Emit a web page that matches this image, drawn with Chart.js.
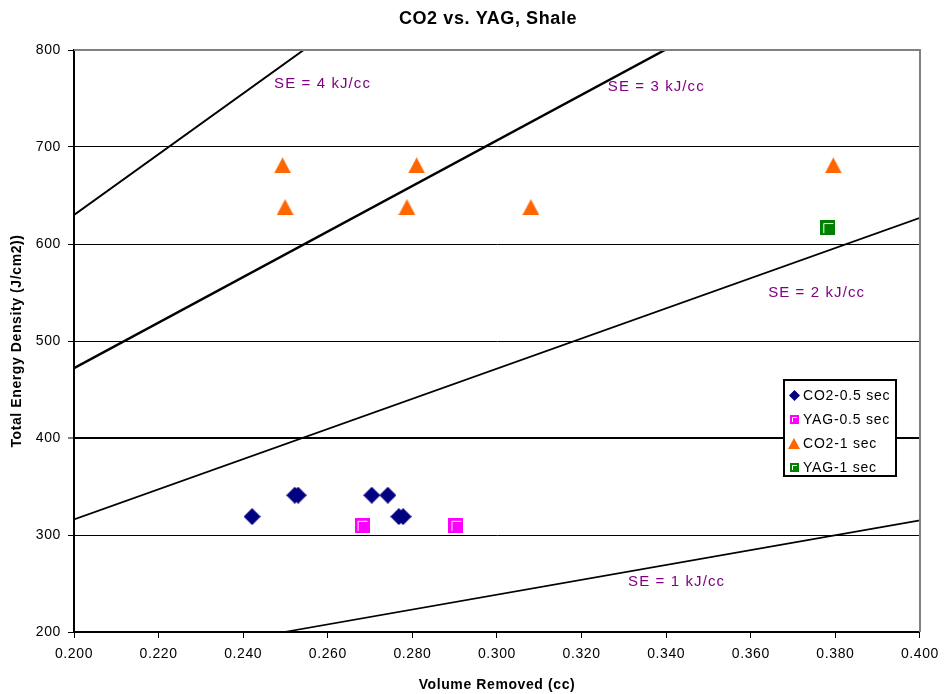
<!DOCTYPE html>
<html>
<head>
<meta charset="utf-8">
<script src="https://cdn.jsdelivr.net/npm/chart.js@4"></script>
<style>
  html, body { margin: 0; padding: 0; background: #fff; }
</style>
</head>
<body>
<canvas id="chart" width="947" height="694"></canvas>
<script>
// values
var co2HalfX = [0.2421, 0.2522, 0.2530, 0.2704, 0.2742, 0.2768, 0.2778];
var co2HalfY = [319, 341, 341, 341, 341, 319, 319];
var yagHalfX = [0.2681, 0.2903];
var yagHalfY = [310, 310];
var co2OneX = [0.2493, 0.2499, 0.2810, 0.2787, 0.3080, 0.3795];
var co2OneY = [681, 638, 681, 638, 638, 681];
var yagOneX = [0.3782];
var yagOneY = [617];

// specific energy lines (two end points each)
var se4X = [0.200, 0.2543], se4Y = [630, 800];
var se3X = [0.200, 0.3397], se3Y = [472, 800];
var se2X = [0.200, 0.400], se2Y = [316, 627];
var se1X = [0.2497, 0.400], se1Y = [200, 315];

var seLabels = ['SE = 4 kJ/cc', 'SE = 3 kJ/cc', 'SE = 2 kJ/cc', 'SE = 1 kJ/cc'];
var seLabelX = [0.2473, 0.3262, 0.3641, 0.3310];
var seLabelY = [765, 762, 550, 252];

var seriesNames = ['CO2-0.5 sec', 'YAG-0.5 sec', 'CO2-1 sec', 'YAG-1 sec'];

var FONT = 'Liberation Sans, Arial, sans-serif';

function pts(xs, ys) {
  return xs.map(function (x, i) { return { x: x, y: ys[i] }; });
}

// marker images
function diamond(size, color) {
  var c = document.createElement('canvas');
  c.width = size; c.height = size;
  var g = c.getContext('2d');
  g.fillStyle = color;
  g.beginPath();
  g.moveTo(size / 2, 0); g.lineTo(size, size / 2); g.lineTo(size / 2, size); g.lineTo(0, size / 2);
  g.closePath(); g.fill();
  return c;
}
function square(size, color) {
  var c = document.createElement('canvas');
  c.width = size; c.height = size;
  var g = c.getContext('2d');
  g.fillStyle = color;
  g.fillRect(0, 0, size, size);
  var o = Math.round(size * 0.22);
  g.strokeStyle = '#fff'; g.lineWidth = 1;
  g.beginPath();
  g.moveTo(o + 0.5, size - 2); g.lineTo(o + 0.5, o + 0.5); g.lineTo(size - 2, o + 0.5);
  g.stroke();
  return c;
}
function triangle(w, h, color) {
  var c = document.createElement('canvas');
  c.width = w; c.height = h;
  var g = c.getContext('2d');
  g.fillStyle = color;
  g.beginPath();
  g.moveTo(w / 2, 0); g.lineTo(w, h); g.lineTo(0, h);
  g.closePath(); g.fill();
  return c;
}

var markers = [diamond(17, '#000080'), square(15, '#ff00ff'), triangle(17, 16, '#ff6600'), square(15, '#008000')];
var legendMarkers = [diamond(11, '#000080'), square(9, '#ff00ff'), triangle(12, 11, '#ff6600'), square(9, '#008000')];

function seLine(xs, ys, w) {
  return {
    type: 'line', data: pts(xs, ys), borderColor: '#000', borderWidth: w,
    pointRadius: 0, fill: false, showLine: true
  };
}

var spacingPlugin = {
  id: 'spacing',
  beforeUpdate: function (chart) { chart.ctx.letterSpacing = '0.6px'; },
  beforeDraw: function (chart) { chart.ctx.letterSpacing = '0.6px'; }
};

var extrasPlugin = {
  id: 'extras',
  afterLayout: function (chart) {
    if (chart.titleBlock) { chart.titleBlock.left = 56; chart.titleBlock.right = 920; }
  },
  afterDatasetsDraw: function (chart) {
    var ctx = chart.ctx, a = chart.chartArea;
    var xs = chart.scales.x, ys = chart.scales.y;
    ctx.save();
    // grey top / right frame
    ctx.strokeStyle = '#808080'; ctx.lineWidth = 2;
    ctx.beginPath();
    ctx.moveTo(a.left, a.top); ctx.lineTo(a.right, a.top); ctx.lineTo(a.right, a.bottom);
    ctx.stroke();
    // SE labels
    ctx.fillStyle = '#800080';
    ctx.font = '15px ' + FONT;
    ctx.letterSpacing = '1.1px';
    ctx.textBaseline = 'middle';
    ctx.textAlign = 'left';
    seLabels.forEach(function (t, i) {
      ctx.fillText(t, xs.getPixelForValue(seLabelX[i]), ys.getPixelForValue(seLabelY[i]));
    });
    ctx.restore();
  },
  afterDraw: function (chart) {
    var ctx = chart.ctx;
    ctx.save();
    ctx.fillStyle = '#fff';
    ctx.fillRect(784, 380, 112, 96);
    ctx.strokeStyle = '#000'; ctx.lineWidth = 2;
    ctx.strokeRect(784, 380, 112, 96);
    ctx.fillStyle = '#000';
    ctx.font = '14px ' + FONT;
    ctx.letterSpacing = '0.8px';
    ctx.textBaseline = 'middle';
    ctx.textAlign = 'left';
    seriesNames.forEach(function (n, i) {
      var cy = 395 + i * 24;
      var m = legendMarkers[i];
      ctx.drawImage(m, Math.round(794 - m.width / 2), Math.round(cy - m.height / 2));
      ctx.fillText(n, 803, cy + 1);
    });
    ctx.restore();
  }
};

var ctx = document.getElementById('chart').getContext('2d');

var chart = new Chart(ctx, {
  type: 'scatter',
  data: {
    datasets: [
      { label: seriesNames[0], data: pts(co2HalfX, co2HalfY), pointStyle: markers[0], pointRadius: 8 },
      { label: seriesNames[1], data: pts(yagHalfX, yagHalfY), pointStyle: markers[1], pointRadius: 7 },
      { label: seriesNames[2], data: pts(co2OneX, co2OneY), pointStyle: markers[2], pointRadius: 8 },
      { label: seriesNames[3], data: pts(yagOneX, yagOneY), pointStyle: markers[3], pointRadius: 7 },
      seLine(se4X, se4Y, 2),
      seLine(se3X, se3Y, 2.5),
      seLine(se2X, se2Y, 1.7),
      seLine(se1X, se1Y, 1.7)
    ]
  },
  options: {
    responsive: false,
    animation: false,
    events: [],
    layout: { padding: { left: 0, right: 27, top: 0, bottom: 0 } },
    plugins: {
      legend: { display: false },
      tooltip: { enabled: false },
      title: {
        display: true,
        text: 'CO2 vs. YAG, Shale',
        color: '#000',
        font: { family: FONT, size: 18, weight: 'bold' },
        padding: { top: 8, bottom: 20.4 }
      }
    },
    scales: {
      x: {
        type: 'linear',
        min: 0.2, max: 0.4,
        afterFit: function (s) { s.height = 62; },
        border: { color: '#000', width: 2 },
        grid: { drawOnChartArea: false, drawTicks: true, tickLength: 6, tickColor: '#000', tickWidth: 1 },
        ticks: {
          stepSize: 0.02,
          padding: 8,
          color: '#000',
          font: { family: FONT, size: 14 },
          maxRotation: 0,
          callback: function (v) { return v.toFixed(3); }
        },
        title: {
          display: true,
          text: 'Volume Removed (cc)',
          color: '#000',
          font: { family: FONT, size: 14, weight: 'bold' },
          padding: { top: 11, bottom: 0 }
        }
      },
      y: {
        type: 'linear',
        min: 200, max: 800,
        afterFit: function (s) { s.width = 74; },
        border: { color: '#000', width: 2 },
        grid: {
          color: function (c) { return c.tick && c.tick.value === 800 ? '#808080' : '#000'; },
          lineWidth: function (c) { return c.tick && c.tick.value === 400 ? 2 : 1; },
          tickLength: 6, tickColor: '#000', tickWidth: 1
        },
        ticks: {
          stepSize: 100,
          padding: 7,
          color: '#000',
          font: { family: FONT, size: 14 }
        },
        title: {
          display: true,
          text: 'Total Energy Density (J/cm2))',
          color: '#000',
          font: { family: FONT, size: 14, weight: 'bold' },
          padding: { top: 9, bottom: 0 }
        }
      }
    }
  },
  plugins: [spacingPlugin, extrasPlugin]
});
</script>
</body>
</html>
